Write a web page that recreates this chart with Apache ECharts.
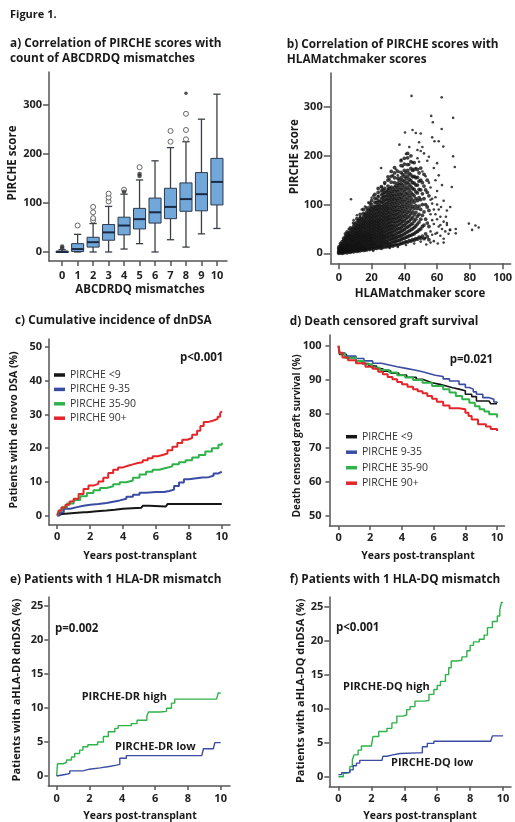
<!DOCTYPE html>
<html><head><meta charset="utf-8">
<script src="https://cdn.jsdelivr.net/npm/echarts@6/dist/echarts.min.js"></script>
<style>html,body{margin:0;padding:0;background:#fff}#c{width:515px;height:822px}</style>
</head><body><div id="c"></div>
<script>
// ---------- Panel a: box plot ----------
const boxCategories = [0,1,2,3,4,5,6,7,8,9,10];
const boxMin    = [0, 0, 0, 0, 6,17, 0,25,10,37,48];
const boxQ1     = [0, 1,10,24,35,47,59,68,83,84,96];
const boxMedian = [0, 6,20,40,54,67,81,92,108,118,143];
const boxQ3     = [2,17,30,56,71,89,110,130,141,162,191];
const boxMax    = [5,36,58,93,118,147,186,213,225,271,322];
const outlierOpen = [[1,54],[2,64],[2,69],[2,81],[2,92],[3,103],[3,111],[3,119],[4,127],[5,173],[7,225],[7,247],[8,230],[8,249],[8,282]];
const outlierFilled = [[0,8],[0,11],[4,123],[5,155],[5,159]];
const outlierExtreme = [[8,324]];
const aYTicks = [0,100,200,300];
const aXTicks = [0,1,2,3,4,5,6,7,8,9,10];

// ---------- Panel b: scatter ----------
const scatterColumns = [
 [0,[0,2,4,7,10,13]],
 [1,[1,3,6,9,12,16,20]],
 [2,[0,2,5,8,11,15,19,24]],
 [3,[1,4,7,10,14,18,22,27,31]],
 [4,[2,5,8,12,16,20,25,29,34,40]],
 [5,[1,4,8,11,15,19,23,28,33,38,44]],
 [6,[3,6,10,14,18,22,27,32,37,42]],
 [7,[2,5,9,13,17,21,26,30,35,40,46,52]],
 [8,[4,7,11,15,19,24,28,33,38,44,50]],
 [9,[3,6,10,14,18,23,27,32,37,43,49,55,62]],
 [10,[5,9,13,17,21,26,31,36,41,47,53,60]],
 [11,[4,8,12,16,20,25,30,35,40,45,51,57,64,71]],
 [12,[6,10,14,19,23,28,33,38,43,49,55,61,68]],
 [13,[5,9,13,18,22,27,32,37,42,47,53,59,66,72,80]],
 [14,[7,11,15,20,25,30,35,40,45,51,57,63,70]],
 [15,[6,10,14,19,24,29,34,39,44,50,56,62,68,75,82,90]],
 [16,[8,12,17,22,27,32,37,42,48,54,60,66,73,80]],
 [17,[7,11,16,21,26,31,36,41,46,52,58,64,71,78,85,93]],
 [18,[9,14,19,24,29,34,39,44,50,56,62,68,75,82,89]],
 [19,[8,13,18,23,28,33,38,43,49,55,61,67,74,81,88,95,103]],
 [20,[10,15,20,25,30,35,41,47,53,59,65,71,78,85,92,100,108]],
 [21,[9,14,19,24,30,36,42,48,54,60,66,73,80,87,94]],
 [22,[11,16,21,27,33,39,45,51,57,63,69,76,83,90,97,105,113,121]],
 [23,[10,15,21,26,32,38,44,50,56,62,68,75,82,89,96,104]],
 [24,[12,17,23,29,35,41,47,53,59,65,72,79,86,93,100,108,116,125,133]],
 [25,[11,16,22,28,34,40,46,52,58,64,70,77,84,91,98,106]],
 [26,[13,18,24,30,36,42,48,54,61,68,75,82,89,96,104,112,120,128,137]],
 [27,[12,19,25,31,37,43,49,56,63,70,77,84,91,98,106,114,122,130]],
 [28,[14,20,26,32,38,45,52,59,66,73,80,87,94,101,109,117,125,133,145]],
 [29,[13,19,25,32,39,46,53,60,67,74,81,88,95,102,110,118,126]],
 [30,[15,21,27,34,41,48,55,62,69,76,83,90,97,105,113,121,129,138,150,157]],
 [31,[14,20,28,35,42,49,56,63,70,77,84,92,100,108,116,124,133]],
 [32,[16,22,29,36,43,50,57,64,71,79,87,95,103,111,119,127,136,146,158,168]],
 [33,[15,23,30,37,44,51,58,66,74,82,90,98,106,114,122,131]],
 [34,[17,24,31,38,46,54,62,70,78,86,94,102,110,118,127,136,145,155,165,176]],
 [35,[18,25,32,40,48,56,64,72,80,88,96,104,112,121,130,139]],
 [36,[17,26,34,42,50,58,66,74,82,90,99,108,117,126,135,144,154,168]],
 [37,[19,27,35,43,51,60,68,76,85,94,103,112,121,130,140,150]],
 [38,[20,28,36,45,53,62,70,79,88,97,106,115,124,134,144,155,166,180,190]],
 [39,[21,30,38,47,56,65,74,83,92,101,110,120,130,140,150,162]],
 [40,[22,31,40,49,58,67,77,86,96,106,116,126,136,147,158,170,183,195]],
 [41,[24,33,42,52,61,71,80,90,100,110,121,131,142,153,165]],
 [42,[23,34,44,54,64,74,84,94,104,114,124,135,146,158,170,182,196,205]],
 [43,[26,36,46,56,66,77,87,98,108,119,130,141,152,164]],
 [44,[25,37,48,59,70,81,92,103,114,125,137,149,161,174,188,200]],
 [45,[28,39,50,61,73,85,97,109,121,133,145,157,170]],
 [46,[27,40,53,66,79,92,105,118,131,144,158,172,186]],
 [47,[30,43,56,70,84,98,112,126,140,155]],
 [48,[29,45,60,76,92,108,124,140,156,172]],
 [49,[33,48,64,80,97,114,131,148,165]],
 [50,[31,50,70,90,110,130,150,175]],
 [51,[35,55,78,100,122,145]],
 [52,[30,58,85,112,138,162]],
 [53,[40,70,100,130]],
 [54,[34,62,95,125,150]],
 [55,[28,55,88,118]]
];
const scatterSparse = [[44.4,323],[62.8,320],[56.4,282],[57.4,269],[69.8,278],[62.8,255],[40.4,248],[45,253],[47,247],[50,246],
 [57,238],[58.4,230],[61,230],[63.8,219],[69.8,199],[70.8,177],[69,136],[37,223],[25.8,175],[7.4,111],[79.4,61],[81.4,48],
 [83.4,57],[85.4,53],[71.4,50],[71.4,41],[67.8,48],[65.4,75],[62.4,95],[60.4,20],[53.4,18],[52.6,31],[52,205],[54,190],
 [48,212],[59,150],[60,128],[64,108],[66,88],[58,175],[61,160],[55,198],[66,62],[68,95],[63,140],[59,40],[64,22],[62,58],
 [57,112],[56,135],[60,185],[56,22],[56,45],[56,80],[56,110],[57,38],[57,68],[57,102],[58,25],[58,60],[58,90],[59,80],[59,115],
 [60,42],[60,70],[60,100],[61,55],[61,90],[62,36],[62,75],[63,50],[64,30],[64,65],[65,45],[66,58],[67,40],[68,48],
 [12,4],[16,6],[21,5],[26,9],[31,11],[36,13],[41,17],[46,20],[50,24],[9,68],[14,90],[18,104],[23,112],[28,142],[33,160],[35,172],
 [11,78],[16,96],[21,118],[26,135],[31,152],[38,192],[43,218],[49,228],[41,204],[48,195],[50,210],[51,168],[53,158],[45,186],
 [47,175],[43,182],[39,178],[36,160],[30,132],[24,118],[20,114],[13,75],[6,50],[55,145],[49,188],[51,218]];
const bYTicks = [0,100,200,300];
const bXTicks = [0,20,40,60,80,100];

// ---------- Panel c: cumulative incidence of dnDSA ----------
const cNames = ['PIRCHE <9','PIRCHE 9-35','PIRCHE 35-90','PIRCHE 90+'];
const cLow = [[0,0],[0.1,0.5],[0.3,1.0],[1.6,1.0],[1.8,1.3],[2.4,1.5],[3.0,1.7],[3.5,2.0],[4.0,2.3],[5.1,2.5],[5.2,2.9],[5.6,2.7],[6.6,2.8],[6.7,3.4],[10,3.4]];
const cMidLow = [[0,0],[0.15,1.0],[0.4,2.0],[0.8,2.5],[1.2,2.9],[1.6,3.2],[2.0,3.4],[2.5,3.7],[3.0,4.1],[3.4,4.5],[3.8,5.0],[4.2,5.6],[4.6,6.2],[5.0,6.8],[5.4,7.0],[6.0,7.0],[6.5,7.3],[6.8,7.7],[7.1,8.8],[7.4,9.8],[7.7,10.8],[8.0,11.3],[8.8,11.4],[9.2,11.8],[9.5,12.5],[9.8,13.0],[10,13.1]];
const cMidHigh = [[0,0],[0.1,1.5],[0.3,2.5],[0.6,3.6],[1,4.6],[1.4,5.7],[1.8,6.7],[2.2,7.5],[2.6,8.2],[3.0,8.7],[3.4,9.3],[3.8,9.9],[4.2,10.4],[4.6,11.2],[5.0,12.2],[5.4,13.0],[5.8,13.6],[6.2,14.1],[6.6,14.6],[7.0,15.2],[7.4,15.8],[7.8,16.4],[8.2,17.2],[8.6,18.0],[9.0,19.0],[9.4,20.0],[9.8,21.0],[10,21.6]];
const cHigh = [[0,0],[0.1,1.5],[0.25,2.4],[0.5,3.2],[0.75,4.2],[1,5.0],[1.3,6.4],[1.6,7.9],[1.9,8.9],[2.2,9.4],[2.5,10.1],[2.8,11.2],[3.1,12.6],[3.4,13.6],[3.7,14.3],[4.0,14.8],[4.3,15.2],[4.6,15.6],[4.9,15.8],[5.2,16.4],[5.5,17.0],[5.8,17.6],[6.1,18.0],[6.4,18.4],[6.7,19.4],[7.0,20.4],[7.3,21.5],[7.6,22.5],[7.9,23.0],[8.2,24.0],[8.5,25.2],[8.7,26.6],[8.9,27.8],[9.2,28.2],[9.5,28.7],[9.75,29.3],[9.9,30.3],[10,31.0]];
const cYTicks = [0,10,20,30,40,50];
const yearTicks = [0,2,4,6,8,10];

// ---------- Panel d: death censored graft survival ----------
const dLow = [[0,100],[0.06,97.5],[0.5,96.5],[1.1,95.6],[1.5,94.8],[1.9,94.1],[2.4,93.3],[2.8,92.6],[3.3,92.0],[3.8,91.4],[4.3,90.8],[4.9,90.2],[5.3,89.7],[5.6,89.2],[5.9,88.7],[6.4,88.2],[6.8,87.7],[7.2,87.3],[7.6,86.8],[8.0,85.8],[8.4,85.1],[8.7,83.8],[9.5,83.8],[9.6,83.0],[10,83.0]];
const dMidLow = [[0,100],[0.06,98],[0.4,97],[1.1,96.3],[1.6,95.6],[2.15,94.9],[2.7,94.4],[3.2,93.9],[3.7,93.4],[4.25,92.9],[4.8,92.4],[5.3,91.9],[5.7,91.4],[6.1,91.0],[6.6,90.3],[7.0,89.7],[7.6,88.7],[8.0,87.8],[8.25,87.3],[8.5,86.5],[8.7,85.8],[9.1,84.8],[9.5,84.3],[9.8,83.5],[10,83.2]];
const dMidHigh = [[0,100],[0.08,97.8],[0.4,96.5],[1.1,95.6],[1.6,94.6],[2.1,93.6],[2.6,92.9],[3.2,92.2],[3.7,91.4],[4.2,90.7],[4.7,90.0],[5.3,89.2],[5.9,88.2],[6.6,87.3],[7.0,86.3],[7.4,85.3],[7.8,84.3],[8.25,83.3],[8.6,82.3],[8.9,81.4],[9.2,80.7],[9.5,79.9],[10,79.0]];
const dHigh = [[0,100],[0.05,98],[0.25,96.6],[0.6,95.8],[1.1,94.9],[1.7,93.9],[2.15,93.3],[2.5,92.4],[2.8,91.7],[3.1,90.9],[3.4,90.2],[3.7,89.4],[4.0,88.7],[4.35,88.0],[4.7,87.3],[5.0,86.7],[5.3,86.1],[5.6,85.3],[5.9,84.5],[6.2,83.6],[6.6,82.5],[7.0,81.7],[7.6,81.4],[8.0,80.4],[8.2,79.4],[8.4,78.4],[8.8,77.0],[9.3,76.3],[9.6,75.6],[10,75.0]];
const dYTicks = [50,60,70,80,90,100];

// ---------- Panel e: 1 HLA-DR mismatch ----------
const eHigh = [[0,0],[0.05,1.8],[0.4,2.0],[0.6,2.35],[0.9,2.8],[1.1,3.3],[1.4,3.8],[1.6,4.3],[1.9,4.6],[2.5,5.0],[2.85,5.8],[3.15,6.5],[3.55,7.0],[3.75,7.4],[4.55,7.7],[4.9,8.2],[5.5,8.8],[5.6,9.4],[6.3,9.5],[6.7,9.95],[7.0,10.7],[7.2,11.3],[9.75,11.3],[9.85,12.2],[10,12.2]];
const eLow = [[0,0],[0.1,0.25],[0.6,0.4],[0.8,0.75],[1.6,1.0],[2.0,1.2],[2.65,1.4],[3.2,1.6],[3.65,1.7],[3.85,2.6],[4.25,3.0],[8.85,3.0],[8.95,4.0],[9.55,4.0],[9.65,4.9],[10,4.9]];
// ---------- Panel f: 1 HLA-DQ mismatch ----------
const fHigh = [[0,0],[0.3,0.5],[0.5,0.7],[0.7,1.5],[0.85,2.5],[0.95,3.2],[1.2,3.9],[1.4,4.5],[2.0,4.5],[2.1,5.9],[2.45,6.65],[2.95,7.1],[3.25,7.9],[3.55,8.9],[3.95,9.1],[4.15,9.85],[4.35,10.3],[4.65,11.1],[5.2,11.2],[5.5,12.1],[5.8,12.8],[6.0,13.4],[6.2,14.0],[6.5,15.0],[6.7,16.0],[6.85,17.0],[7.2,17.1],[7.5,17.6],[7.8,18.5],[8.0,19.3],[8.2,19.8],[8.55,20.2],[8.85,20.8],[9.05,21.9],[9.35,22.8],[9.65,23.6],[9.8,24.5],[9.9,25.6],[10,25.6]];
const fLow = [[0,0.3],[0.2,0.6],[0.7,1.0],[0.9,1.6],[1.1,2.0],[1.3,2.4],[2.65,2.5],[2.7,3.0],[2.95,3.2],[3.3,3.4],[3.75,3.5],[4.8,3.5],[5.1,4.4],[5.4,4.9],[5.8,5.2],[9.25,5.2],[9.35,6.0],[10,6.0]];
const efYTicks = [0,5,10,15,20,25];

// ---------- build chart ----------
const FONT = '"Open Sans", Lato, sans-serif';
const RED = '#e4262b', GREEN = '#2fb24a', BLUE = '#3a4ca4', BLACK = '#161616';
const AXC = '#555';

function axis(gi, min, max, ticks, tickLen, margin) {
  return {
    type: 'value', gridIndex: gi, min: min, max: max,
    axisLine: {show: true, onZero: false, lineStyle: {color: AXC, width: 1.5}},
    axisTick: {show: true, length: tickLen, customValues: ticks, lineStyle: {color: AXC, width: 1.5}},
    axisLabel: {customValues: ticks, margin: margin, color: '#222', fontFamily: FONT, fontWeight: 'bold', fontSize: 11},
    splitLine: {show: false}
  };
}
const grids = [
  {left: 49, top: 72, width: 178, height: 189},
  {left: 330.7, top: 73, width: 183, height: 190.3},
  {left: 49, top: 339, width: 181, height: 186},
  {left: 329.5, top: 335, width: 175, height: 191},
  {left: 48.3, top: 597, width: 181.7, height: 189},
  {left: 329.3, top: 597, width: 181.7, height: 189.7}
];
const xAxes = [
  axis(0, -0.85, 10.65, aXTicks, 5, 9),
  axis(1, -5, 105, bXTicks, 6, 9),
  axis(2, -0.5, 10.5, yearTicks, 4, 6),
  axis(3, -0.57, 10.47, yearTicks, 4, 6),
  axis(4, -0.51, 10.57, yearTicks, 4, 7),
  axis(5, -0.55, 10.48, yearTicks, 4, 7)
];
const yAxes = [
  axis(0, -18.4, 367.3, aYTicks, 6, 7),
  axis(1, -20.5, 370, bYTicks, 7, 8),
  axis(2, -2.8, 52.4, cYTicks, 4, 7),
  axis(3, 47.1, 103.2, dYTicks, 4, 8),
  axis(4, -1.47, 26.3, efYTicks, 4, 5),
  axis(5, -1.47, 26.4, efYTicks, 5, 6)
];

const boxData = boxCategories.map((c, i) => [c, boxMin[i], boxQ1[i], boxMedian[i], boxQ3[i], boxMax[i]]);
function renderBox(params, api) {
  const x = api.value(0);
  const pMin = api.coord([x, api.value(1)]);
  const pQ1 = api.coord([x, api.value(2)]);
  const pMed = api.coord([x, api.value(3)]);
  const pQ3 = api.coord([x, api.value(4)]);
  const pMax = api.coord([x, api.value(5)]);
  const cx = pMed[0];
  const bw = api.size([1, 0])[0] * 0.78;
  const hw = bw / 2, cw = bw * 0.3;
  const ls = {stroke: '#3a3f47', lineWidth: 1.3};
  return {type: 'group', children: [
    {type: 'line', shape: {x1: cx, y1: pMax[1], x2: cx, y2: pQ3[1]}, style: ls},
    {type: 'line', shape: {x1: cx, y1: pQ1[1], x2: cx, y2: pMin[1]}, style: ls},
    {type: 'line', shape: {x1: cx - cw, y1: pMax[1], x2: cx + cw, y2: pMax[1]}, style: ls},
    {type: 'line', shape: {x1: cx - cw, y1: pMin[1], x2: cx + cw, y2: pMin[1]}, style: ls},
    {type: 'rect', shape: {x: cx - hw, y: pQ3[1], width: bw, height: Math.max(pQ1[1] - pQ3[1], 1.5)},
      style: {fill: '#72a7da', stroke: '#2c3a4c', lineWidth: 1}},
    {type: 'line', shape: {x1: cx - hw, y1: pMed[1], x2: cx + hw, y2: pMed[1]}, style: {stroke: '#1b2a44', lineWidth: 2}}
  ]};
}
const scatterCore = scatterColumns.flatMap(([x, ys]) => ys.map(y => [x, y]));

function kmLine(name, gi, data, color, width) {
  return {type: 'line', name: name, xAxisIndex: gi, yAxisIndex: gi, step: 'end', symbol: 'none',
    data: data, lineStyle: {color: color, width: width}, itemStyle: {color: color}, silent: true};
}

function txt(text, x, y, size, weight, align, rot) {
  return {type: 'text', x: x, y: y, rotation: rot || 0, silent: true,
    style: {text: text, font: weight + ' ' + size + 'px ' + FONT, fill: '#1a1a1a',
      textAlign: align || 'left', textVerticalAlign: 'middle'}};
}
const R = Math.PI / 2;
const texts = [
  txt('Figure 1.', 10, 15, 11, 'bold'),
  txt('a) Correlation of PIRCHE scores with', 10, 43.3, 11.8, 'bold'),
  txt('count of ABCDRDQ mismatches', 10, 58.5, 11.8, 'bold'),
  txt('b) Correlation of PIRCHE scores with', 286.7, 45, 11.8, 'bold'),
  txt('HLAMatchmaker scores', 286.7, 60, 11.8, 'bold'),
  txt('PIRCHE score', 13, 163, 11.5, 'bold', 'center', R),
  txt('ABCDRDQ mismatches', 140, 290, 11.5, 'bold', 'center'),
  txt('PIRCHE score', 295, 156.7, 11.5, 'bold', 'center', R),
  txt('HLAMatchmaker score', 420, 293.3, 11.5, 'bold', 'center'),
  txt('c) Cumulative incidence of dnDSA', 15, 320.7, 11.8, 'bold'),
  txt('Patients with de novo DSA (%)', 14, 430, 10.5, 'bold', 'center', R),
  txt('Years post-transplant', 140, 556, 10.5, 'bold', 'center'),
  txt('p<0.001', 180, 358, 11.5, 'bold'),
  txt('d) Death censored graft survival', 289.7, 321.7, 11.8, 'bold'),
  txt('Death censored graft survival (%)', 297, 435.8, 9.8, 'bold', 'center', R),
  txt('Years post-transplant', 418, 556, 10.5, 'bold', 'center'),
  txt('p=0.021', 449.7, 359.3, 11.5, 'bold'),
  txt('e) Patients with 1 HLA-DR mismatch', 10, 580, 11.8, 'bold'),
  txt('Patients with aHLA-DR dnDSA (%)', 17, 690, 11, 'bold', 'center', R),
  txt('Years post-transplant', 140, 816, 10.5, 'bold', 'center'),
  txt('p=0.002', 55, 628.3, 11.5, 'bold'),
  txt('PIRCHE-DR high', 81.7, 696.7, 11, 'bold'),
  txt('PIRCHE-DR low', 115, 746.7, 11, 'bold'),
  txt('f) Patients with 1 HLA-DQ mismatch', 289.7, 580, 11.8, 'bold'),
  txt('Patients with aHLA-DQ dnDSA (%)', 300.7, 690.8, 11, 'bold', 'center', R),
  txt('Years post-transplant', 420, 816, 10.5, 'bold', 'center'),
  txt('p<0.001', 336, 628, 11.5, 'bold'),
  txt('PIRCHE-DQ high', 343, 686.7, 11, 'bold'),
  txt('PIRCHE-DQ low', 391, 762.7, 11, 'bold')
];

const legendBase = {data: cNames, orient: 'vertical', icon: 'rect', itemWidth: 11, itemHeight: 3.5, padding: 0,
  selectedMode: false, textStyle: {fontFamily: FONT, fontSize: 10.5, color: '#333', lineHeight: 12}};

const chart = echarts.init(document.getElementById('c'), null, {renderer: 'canvas'});
chart.setOption({
  animation: false,
  backgroundColor: '#fff',
  grid: grids,
  xAxis: xAxes,
  yAxis: yAxes,
  legend: [
    Object.assign({}, legendBase, {left: 54, top: 369, itemGap: 2.4}),
    Object.assign({}, legendBase, {left: 346, top: 430.7, itemGap: 3.5})
  ],
  graphic: texts,
  series: [
    {type: 'custom', xAxisIndex: 0, yAxisIndex: 0, renderItem: renderBox, data: boxData,
      encode: {x: 0, y: [1, 2, 3, 4, 5]}, silent: true},
    {type: 'scatter', xAxisIndex: 0, yAxisIndex: 0, data: outlierOpen, symbol: 'circle', symbolSize: 5,
      itemStyle: {color: '#fff', borderColor: '#444', borderWidth: 1}, silent: true},
    {type: 'scatter', xAxisIndex: 0, yAxisIndex: 0, data: outlierFilled, symbol: 'circle', symbolSize: 4.5,
      itemStyle: {color: '#333'}, silent: true},
    {type: 'scatter', xAxisIndex: 0, yAxisIndex: 0, data: outlierExtreme, symbol: 'circle', symbolSize: 3.5,
      itemStyle: {color: '#222'}, silent: true},
    {type: 'scatter', xAxisIndex: 1, yAxisIndex: 1, data: scatterCore, symbolSize: 3.8,
      itemStyle: {color: '#111'}, silent: true, large: false},
    {type: 'scatter', xAxisIndex: 1, yAxisIndex: 1, data: scatterSparse, symbolSize: 2.6,
      itemStyle: {color: '#111'}, silent: true, large: false},
    kmLine(cNames[0], 2, cLow, BLACK, 2),
    kmLine(cNames[1], 2, cMidLow, BLUE, 2),
    kmLine(cNames[2], 2, cMidHigh, GREEN, 2),
    kmLine(cNames[3], 2, cHigh, RED, 2),
    kmLine(cNames[0], 3, dLow, BLACK, 1.6),
    kmLine(cNames[1], 3, dMidLow, BLUE, 1.6),
    kmLine(cNames[2], 3, dMidHigh, GREEN, 2),
    kmLine(cNames[3], 3, dHigh, RED, 2),
    kmLine('PIRCHE-DR high', 4, eHigh, GREEN, 1.4),
    kmLine('PIRCHE-DR low', 4, eLow, BLUE, 1.4),
    kmLine('PIRCHE-DQ high', 5, fHigh, GREEN, 1.4),
    kmLine('PIRCHE-DQ low', 5, fLow, BLUE, 1.4)
  ]
});
</script></body></html>
